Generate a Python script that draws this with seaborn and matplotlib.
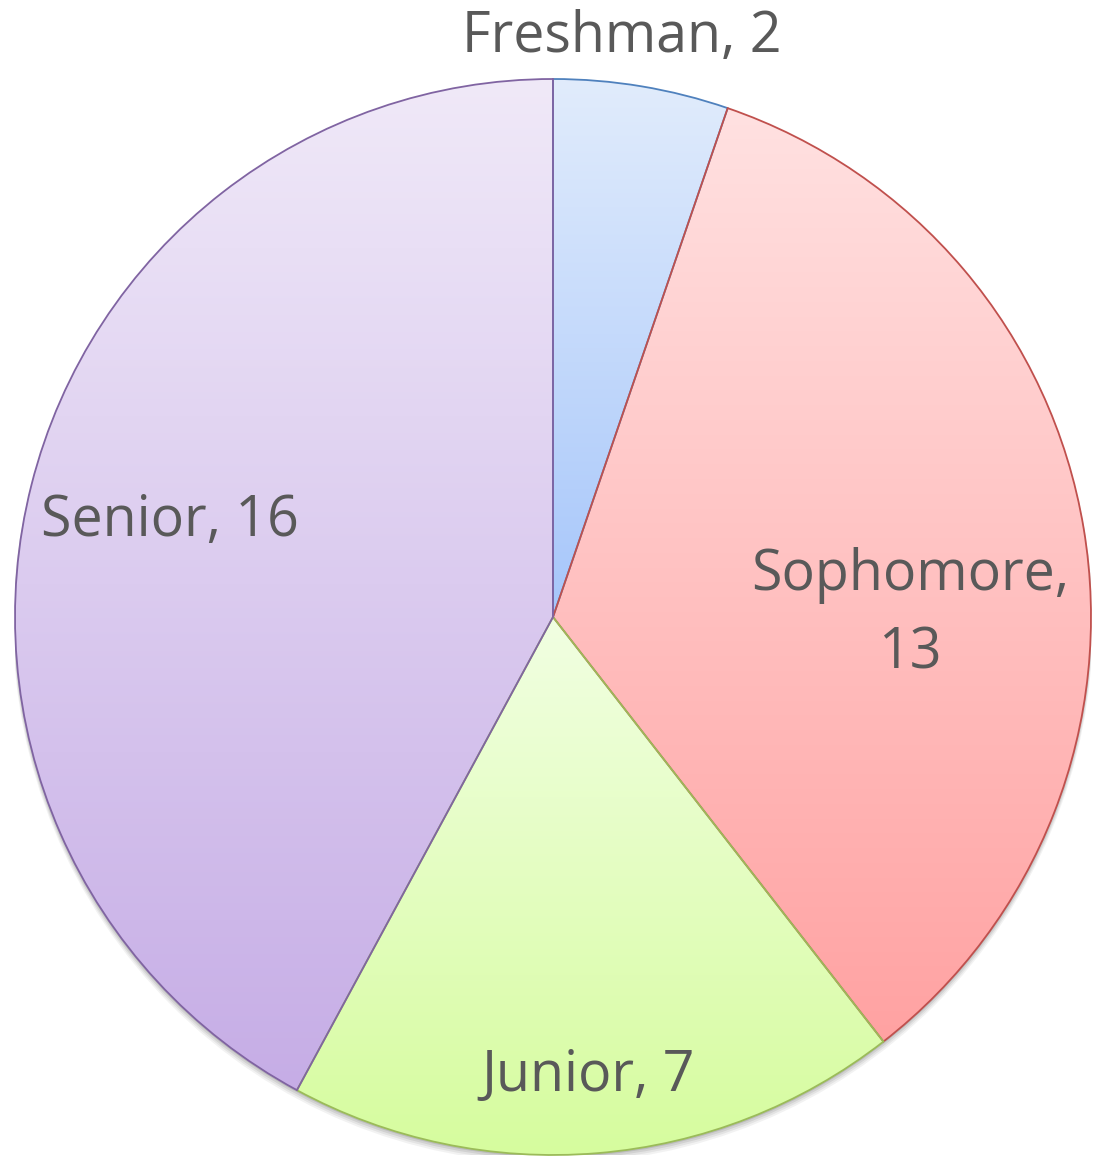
import numpy as np
import matplotlib
matplotlib.use("Agg")
import matplotlib.pyplot as plt
import seaborn as sns
from matplotlib.colors import to_rgb
from matplotlib.patches import Circle

categories = ["Freshman", "Sophomore", "Junior", "Senior"]
values = [2, 13, 7, 16]
label_texts = ["Freshman, 2", "Sophomore,\n13", "Junior, 7", "Senior, 16"]

# styles
top_colors = ["#E1ECFC", "#FFE1E1", "#F1FFE2", "#F0E9F8"]
bottom_colors = ["#A6C6FA", "#FFA2A2", "#D6FC9E", "#C6ADE6"]
edge_colors = ["#4F81BD", "#C0504D", "#9BBB59", "#8064A2"]
# label placement (radius fraction, angle from top clockwise in degrees)
label_polar = [(1.084, 6.8), (0.664, 89.7), (0.857, 175.6), (0.734, 284.0)]

sns.set_theme(style="white")
plt.rcParams['font.family'] = ['Open Sans', 'DejaVu Sans']

W, H = 1095, 1163
fig = plt.figure(figsize=(W / 100, H / 100), dpi=100)
cx, cy, R = 553, 617, 538
ax = fig.add_axes([(cx - R) / W, (H - cy - R) / H, 2 * R / W, 2 * R / H])
ax.set_xlim(-1, 1)
ax.set_ylim(-1, 1)
ax.set_aspect("equal")
ax.axis("off")

# soft shadow
for off, a in [(0.012, 0.05), (0.009, 0.06), (0.006, 0.08), (0.003, 0.10)]:
    ax.add_patch(Circle((0, -off), 1.0 + off * 0.3, color="#000000", alpha=a, lw=0, zorder=0))

wedges, _ = ax.pie(values, startangle=90, counterclock=False, radius=1.0,
                   wedgeprops=dict(linewidth=1.3, facecolor="none"))
for w, tc, bc, ec in zip(wedges, top_colors, bottom_colors, edge_colors):
    w.set_edgecolor(ec)
    w.set_zorder(3)
    ext = w.get_path().get_extents()
    n = 256
    t = np.linspace(0, 1, n)[:, None]
    grad = (1 - t) * np.array(to_rgb(tc)) + t * np.array(to_rgb(bc))
    img = grad[:, None, :]
    im = ax.imshow(img, extent=(ext.x0, ext.x1, ext.y0, ext.y1), origin="upper",
                   aspect="auto", zorder=2, interpolation="bilinear")
    im.set_clip_path(w)

ax.set_xlim(-1, 1)
ax.set_ylim(-1, 1)

for txt, (r, ang) in zip(label_texts, label_polar):
    th = np.deg2rad(ang)
    ax.text(r * np.sin(th), r * np.cos(th), txt, ha="center", va="center",
            fontsize=40, color="#595959", zorder=5, clip_on=False, linespacing=1.5)

fig.savefig("out.png", dpi=100)
